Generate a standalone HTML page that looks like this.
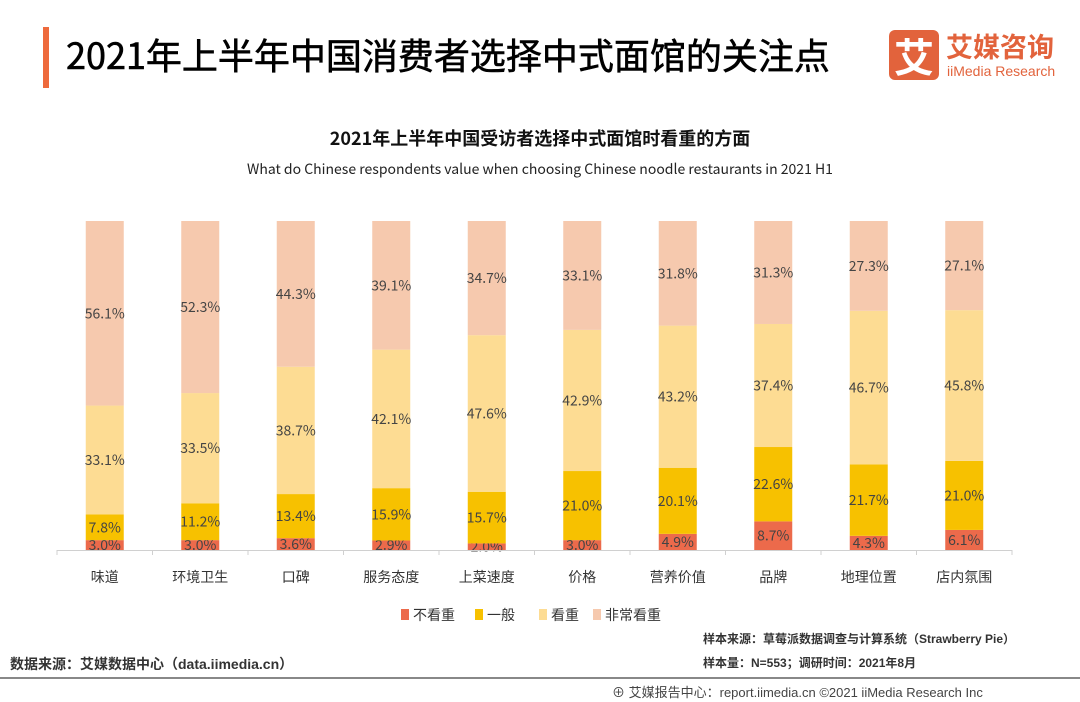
<!DOCTYPE html>
<html><head><meta charset="utf-8">
<style>
body{margin:0;width:1080px;height:702px;background:#fff;overflow:hidden;font-family:"Liberation Sans","Noto Sans CJK SC",sans-serif;position:relative}
.abs{position:absolute}
</style></head><body>
<div class="abs" style="left:43px;top:27px;width:6px;height:61px;background:#ee6a3c"></div>
<div class="abs" style="left:66px;top:29px;font-size:36px;font-weight:normal;color:#000;line-height:50px;font-family:'Noto Sans CJK SC',sans-serif;-webkit-text-stroke:0.6px #000">2021年上半年中国消费者选择中式面馆的关注点</div>
<div class="abs" style="left:889px;top:30px;width:50px;height:50px;background:#e2633c;border-radius:6px;color:#fff;font-size:40px;text-align:center;line-height:50px;font-family:'Noto Sans CJK SC',sans-serif;font-weight:bold">艾</div>
<div class="abs" style="left:946px;top:28px;font-size:27px;color:#e2633c;font-weight:bold;line-height:36px;font-family:'Noto Sans CJK SC',sans-serif">艾媒咨询</div>
<div class="abs" style="left:947px;top:62px;font-size:14px;color:#e2633c;line-height:18px">iiMedia Research</div>
<svg class="abs" style="left:0;top:0" width="1080" height="702" id="chart">
<text x="540" y="145" text-anchor="middle" font-size="18" font-weight="bold" fill="#111" font-family="Noto Sans CJK SC,sans-serif">2021年上半年中国受访者选择中式面馆时看重的方面</text>
<text x="540" y="174" text-anchor="middle" font-size="14" fill="#222" font-family="Noto Sans CJK SC,sans-serif">What do Chinese respondents value when choosing Chinese noodle restaurants in 2021 H1</text>
<g id="bars"></g>
<line x1="57" y1="550.5" x2="1012" y2="550.5" stroke="#d0d0d0" stroke-width="1"/>
<g id="ticks"></g>
<g id="legend"></g>
</svg>
<div class="abs" style="left:703px;top:630px;font-size:12px;color:#333;font-weight:bold">样本来源：草莓派数据调查与计算系统（Strawberry Pie）</div>
<div class="abs" style="left:10px;top:654px;font-size:14px;color:#333;font-weight:bold">数据来源：艾媒数据中心（data.iimedia.cn）</div>
<div class="abs" style="left:703px;top:654px;font-size:12px;color:#333;font-weight:bold">样本量：N=553；调研时间：2021年8月</div>
<div class="abs" style="left:0;top:677px;width:1080px;height:2px;background:#888"></div>
<div class="abs" style="left:612px;top:682px;font-size:13px;color:#444">⊕ 艾媒报告中心：report.iimedia.cn ©2021 iiMedia Research Inc</div>
<script>
const categories=["味道","环境卫生","口碑","服务态度","上菜速度","价格","营养价值","品牌","地理位置","店内氛围"];
const seriesNames=["不看重","一般","看重","非常看重"];
const notImportant=[3.0,3.0,3.6,2.9,2.0,3.0,4.9,8.7,4.3,6.1];
const normal=[7.8,11.2,13.4,15.9,15.7,21.0,20.1,22.6,21.7,21.0];
const important=[33.1,33.5,38.7,42.1,47.6,42.9,43.2,37.4,46.7,45.8];
const veryImportant=[56.1,52.3,44.3,39.1,34.7,33.1,31.8,31.3,27.3,27.1];
const colors=["#ec6a4b","#f7c100","#fddc93","#f6c9ae"];
const NS="http://www.w3.org/2000/svg";
const x0=57,x1=1012,yBase=550,yTop=221;
const band=(x1-x0)/categories.length, bw=38;
const y=v=>yBase-(v/100)*(yBase-yTop);
const xc=i=>x0+band*(i+0.5);
const g=document.getElementById('bars');
const series=[notImportant,normal,important,veryImportant];
function mk(t,a){const e=document.createElementNS(NS,t);for(const k in a)e.setAttribute(k,a[k]);return e;}
categories.forEach((c,i)=>{
  let cum=0;
  series.forEach((s,k)=>{
    const v=s[i];
    const r=mk('rect',{x:xc(i)-bw/2,y:y(cum+v),width:bw,height:y(cum)-y(cum+v),fill:colors[k]});
    
    
    g.appendChild(r);
    const t=mk('text',{x:xc(i),y:(y(cum)+y(cum+v))/2+5,'text-anchor':'middle','font-size':14,fill:'#444','font-family':'Noto Sans CJK SC,sans-serif'});
    t.textContent=v.toFixed(1)+'%';
    
    
    g.appendChild(t);
    cum+=v;
  });
  const l=mk('text',{x:xc(i),y:582,'text-anchor':'middle','font-size':14,fill:'#333','font-family':'Noto Sans CJK SC,sans-serif'});
  l.textContent=c;
  
  
  g.appendChild(l);
});
const tg=document.getElementById('ticks');
for(let i=0;i<=categories.length;i++){
  const tk=mk('line',{x1:x0+band*i,x2:x0+band*i,y1:550,y2:555,stroke:'#d0d0d0'});
  
  
  tg.appendChild(tk);
}
const lg=document.getElementById('legend');
const lx=[401,475,539,593];
seriesNames.forEach((n,k)=>{
  const r=mk('rect',{x:lx[k],y:609,width:8,height:11,fill:colors[k]});
  
  
  lg.appendChild(r);
  const t=mk('text',{x:lx[k]+12,y:620,'font-size':14,fill:'#333','font-family':'Noto Sans CJK SC,sans-serif'});
  t.textContent=n;
  
  
  lg.appendChild(t);
});
</script>
</body></html>
